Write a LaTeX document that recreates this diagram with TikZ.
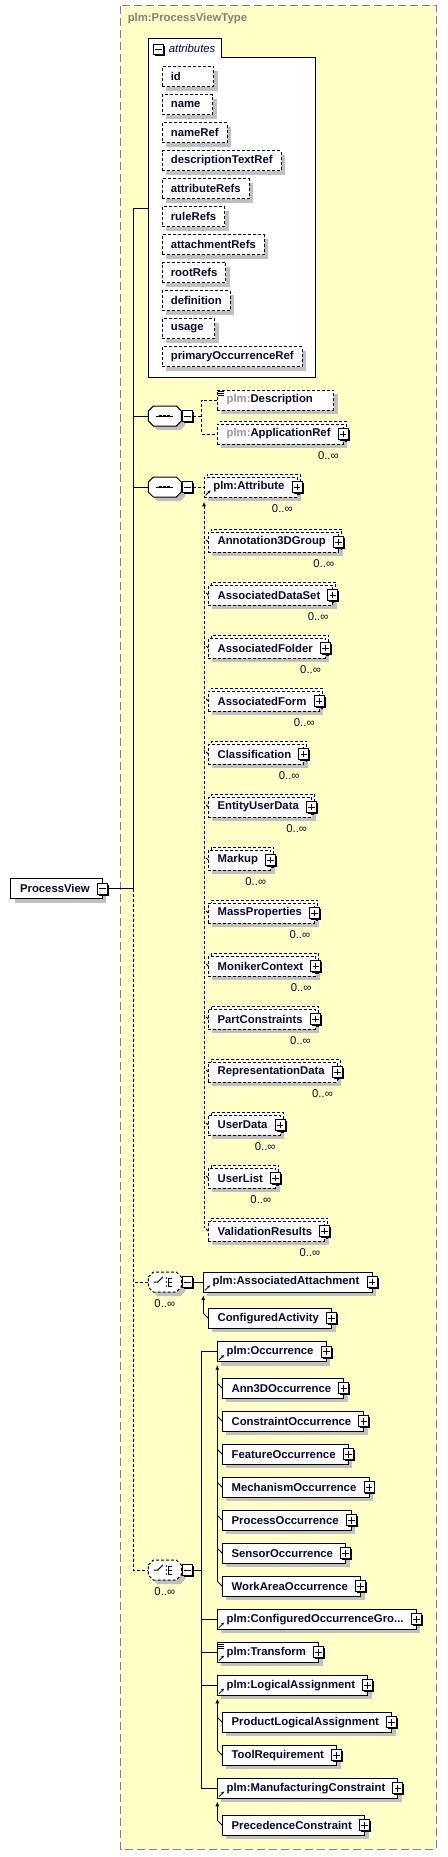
\documentclass[tikz,border=0pt]{standalone}
\usepackage{fontspec}
\setmainfont{Liberation Sans}
\usetikzlibrary{positioning,shadows,arrows.meta}
\definecolor{xsdtext}{RGB}{8,8,48}
\definecolor{xsdgray}{RGB}{128,128,128}
\definecolor{plmgray}{RGB}{150,150,150}
\definecolor{typebg}{RGB}{255,255,198}
\definecolor{shadowgray}{RGB}{192,192,192}

\begin{document}
\begin{tikzpicture}[x=0.75pt, y=-0.75pt, line width=0.75pt,
  dsh/.style={dash pattern=on 2.25pt off 1.5pt},
  elem/.style={draw, fill=white, anchor=west, minimum height=15pt, inner sep=0pt, outer sep=0pt,
    font=\bfseries\fontsize{8.5}{10}\selectfont, text=xsdtext,
    execute at begin node=\hspace*{7pt}, execute at end node=\hspace*{9.5pt},
    drop shadow={shadow xshift=3pt, shadow yshift=-3pt, fill=shadowgray, opacity=1}},
  optone/.style={elem, dsh},
  optmulti/.style={elem, dsh, copy shadow={shadow xshift=2.25pt, shadow yshift=2.25pt, draw=black, fill=white, dsh}},
  attbox/.style={draw, dsh, fill=white, anchor=west, minimum height=15pt, inner xsep=6.4pt, inner ysep=0pt, outer sep=0pt,
    font=\bfseries\fontsize{8.5}{10}\selectfont, text=xsdtext,
    drop shadow={shadow xshift=3pt, shadow yshift=-3pt, fill=shadowgray, opacity=1}},
  card/.style={anchor=north east, inner sep=0pt, font=\fontsize{8.5}{10}\selectfont, text=xsdtext},
  minusbox/.style={draw, fill=white, minimum width=7.5pt, minimum height=8pt, inner sep=0pt, outer sep=0pt,
    drop shadow={shadow xshift=1.1pt, shadow yshift=-1.1pt, fill=black, opacity=1},
    path picture={\draw (path picture bounding box.center) ++(-3.3,0) -- ++(6.6,0);}},
  plusbox/.style={minusbox,
    path picture={\draw (path picture bounding box.center) ++(-3.3,0) -- ++(6.6,0) (path picture bounding box.center) ++(0,-3.3) -- ++(0,6.6);}},
  compo/.style={anchor=west, minimum width=24.75pt, minimum height=15pt, inner sep=0pt, outer sep=0pt}]

\fill[white] (0,0) rectangle (447,1857);
\useasboundingbox (0,0) rectangle (447,1857);
\draw[xsdgray, dash pattern=on 6pt off 3pt, fill=typebg] (120.7,5.7) rectangle (436,1849);
\node[anchor=west, inner sep=0pt, font=\bfseries\fontsize{8.5}{10}\selectfont, text=xsdgray] (ttl) at (127.3,19) {plm:ProcessViewType};

% attributes
\draw[fill=white] (148.3,38.3) -- (221.7,38.3) -- (221.7,57.3) -- (315.3,57.3) -- (315.3,377.3) -- (148.3,377.3) -- cycle;
\node[anchor=west, inner sep=0pt, font=\itshape\fontsize{8.5}{10}\selectfont, text=xsdtext] (atttab) at (168.3,48) {attributes};
\node[minusbox] (atttabm) at (158.3,49.5) {};
\foreach \a/\p [count=\i from 0] in {id/18.4pt,name/2.9pt,nameRef/0pt,descriptionTextRef/0pt,attributeRefs/0pt,ruleRefs/0pt,attachmentRefs/0pt,rootRefs/0pt,definition/0pt,usage/2pt,primaryOccurrenceRef/0pt}
  \node[attbox] (att\i) at (162.3,76.7+28*\i) {\a\hspace*{\p}};
\coordinate (atin) at (148.3,208.3);
\coordinate (ttop) at (133.3,208.3);

\node[elem] (pv) at (10.7,888.7) {ProcessView};
\node[minusbox] (pvm) at (pv.east) {};

% compositors
\node[compo] (sq1) at (148.3,416) {};
\node[compo] (sq2) at (148.3,487) {};
\node[compo] (ch1) at (148.3,1282) {};
\node[compo] (ch2) at (148.3,1570) {};
\foreach \n/\s in {sq1/solid,sq2/solid,ch1/dsh,ch2/dsh} {
  \begin{scope}[shift={(\n.center)}]
    \fill[shadowgray, shift={(4,4)}] (-16.5,-5) -- (-11.5,-10) -- (11.5,-10) -- (16.5,-5) -- (16.5,5) -- (11.5,10) -- (-11.5,10) -- (-16.5,5) -- cycle;
    \draw[\s, fill=white] (-16.5,-5) -- (-11.5,-10) -- (11.5,-10) -- (16.5,-5) -- (16.5,5) -- (11.5,10) -- (-11.5,10) -- (-16.5,5) -- cycle;
  \end{scope}
  \node[minusbox, right=1pt of \n] (\n m) {};
}
\foreach \n in {sq1,sq2} {
  \draw (\n.center) ++(-8.5,0) -- ++(17,0);
  \foreach \k in {-4,0,4} \fill (\n.center) ++(\k-1.4,-1.4) rectangle ++(2.8,2.8);
}
\foreach \n in {ch1,ch2} {
  \draw (\n.center) ++(-11,0) -- ++(4,0) -- ++(5,-5);
  \foreach \k in {-4,0,4} {\fill (\n.center) ++(1.5,\k) circle[radius=0.6pt]; \draw (\n.center) ++(3.5,\k) -- ++(4,0);}
  \draw (\n.center) ++(3.5,-4) -- ++(0,8);
  \node[card, anchor=north] (c\n) at ([yshift=-5pt]\n.south) {0..∞};
}

\node[optone, execute at end node=\hspace*{6pt}] (desc) at (217.3,400) {{\color{plmgray}plm:}Description};
\node[optmulti] (appref) at (217.3,434) {{\color{plmgray}plm:}ApplicationRef};
\node[optmulti] (attr) at (204,487) {plm:Attribute};
\foreach \n in {appref,attr} {
  \node[plusbox] (p\n) at (\n.east) {};
  \node[card] (c\n) at ([xshift=-3pt,yshift=-5pt]\n.south east) {0..∞};
}
\foreach \e [count=\i from 0] in {Annotation3DGroup,AssociatedDataSet,AssociatedFolder,AssociatedForm,Classification,EntityUserData,Markup,MassProperties,MonikerContext,PartConstraints,RepresentationData,UserData,UserList,ValidationResults} {
  \node[optmulti] (d\i) at (208.3,542+53*\i) {\e};
  \node[plusbox] (pd\i) at (d\i.east) {};
  \node[card] (cd\i) at ([xshift=-3pt,yshift=-5pt]d\i.south east) {0..∞};
  \draw[dsh] (d\i.west) -- ++(-4.3,-4);
}
\coordinate (attrend) at (204,1227);

\node[elem] (asatt) at (203.3,1282) {plm:AssociatedAttachment};
\node[elem] (cfgact) at (208.3,1318.3) {ConfiguredActivity};
\coordinate (caend) at (203.3,1313.3);

\node[elem] (occ) at (217.3,1351.7) {plm:Occurrence};
\foreach \e [count=\i from 0] in {Ann3DOccurrence,ConstraintOccurrence,FeatureOccurrence,MechanismOccurrence,ProcessOccurrence,SensorOccurrence,WorkAreaOccurrence} {
  \node[elem] (o\i) at (222.3,1388.3+33*\i) {\e};
  \node[plusbox] (po\i) at (o\i.east) {};
  \draw (o\i.west) -- ++(-5,-5);
}
\coordinate (occend) at (217.3,1581.3);
\node[elem] (cog) at (217.3,1619.3) {plm:ConfiguredOccurrenceGro...};
\node[elem] (transf) at (217.3,1652.3) {plm:Transform};
\node[elem] (logass) at (217.3,1685.3) {plm:LogicalAssignment};
\node[elem] (pla) at (222.3,1722.3) {ProductLogicalAssignment};
\node[elem] (toolreq) at (222.3,1755.3) {ToolRequirement};
\coordinate (logend) at (217.3,1750.3);
\node[elem] (mfgc) at (217.3,1788.3) {plm:ManufacturingConstraint};
\node[elem] (precc) at (222.3,1825.3) {PrecedenceConstraint};
\coordinate (mfgend) at (217.3,1820.3);

\foreach \n in {asatt,cfgact,occ,cog,transf,logass,pla,toolreq,mfgc,precc}
  \node[plusbox] (p\n) at (\n.east) {};
\foreach \n in {cfgact,pla,toolreq,precc}
  \draw (\n.west) -- ++(-5,-5);

% icons
\foreach \n in {attr,asatt,occ,cog,transf,logass,mfgc}
  \draw[line width=0.6pt, -{Stealth[length=2.2pt,width=2.2pt]}] ([xshift=1.2pt,yshift=1.2pt]\n.south west) -- ++(5,-5);
\foreach \n in {desc,transf}
  \foreach \k in {0,1,2}
    \draw[line width=0.5pt] ([xshift=0.75pt,yshift=-1.2pt-1.5pt*\k]\n.north west) -- ++(6,0);

% connectors
\draw (atin) -- (ttop) |- (pvm.east);
\draw (sq1.west) -- (sq1.west -| ttop);
\draw (sq2.west) -- (sq2.west -| ttop);
\draw[dsh] (pvm.east -| ttop) |- (ch2.west);
\draw[dsh] (ch1.west) -- (ch1.west -| ttop);
\draw[dsh] (sq1m.east) -- ++(9,0) coordinate (s1b);
\draw[dsh] (desc.west) -| (s1b) |- (appref.west);
\draw[dsh] (sq2m.east) -- (attr.west);
\draw[dsh, {Latex[length=3.5pt,width=3pt]}-] ([yshift=-3.5pt]attr.south west) -- (attrend);
\draw (ch1m.east) -- (asatt.west);
\draw[{Latex[length=3.5pt,width=3pt]}-] ([yshift=-2.5pt]asatt.south west) -- (caend);
\draw (ch2m.east) -- ++(9,0) coordinate (c2b);
\draw (occ.west) -| (c2b) |- (mfgc.west);
\foreach \n in {cog,transf,logass}
  \draw (\n.west) -- (\n.west -| c2b);
\draw[{Latex[length=3.5pt,width=3pt]}-] ([yshift=-2.5pt]occ.south west) -- (occend);
\draw[{Latex[length=3.5pt,width=3pt]}-] ([yshift=-2.5pt]logass.south west) -- (logend);
\draw[{Latex[length=3.5pt,width=3pt]}-] ([yshift=-2.5pt]mfgc.south west) -- (mfgend);
\end{tikzpicture}
\end{document}
